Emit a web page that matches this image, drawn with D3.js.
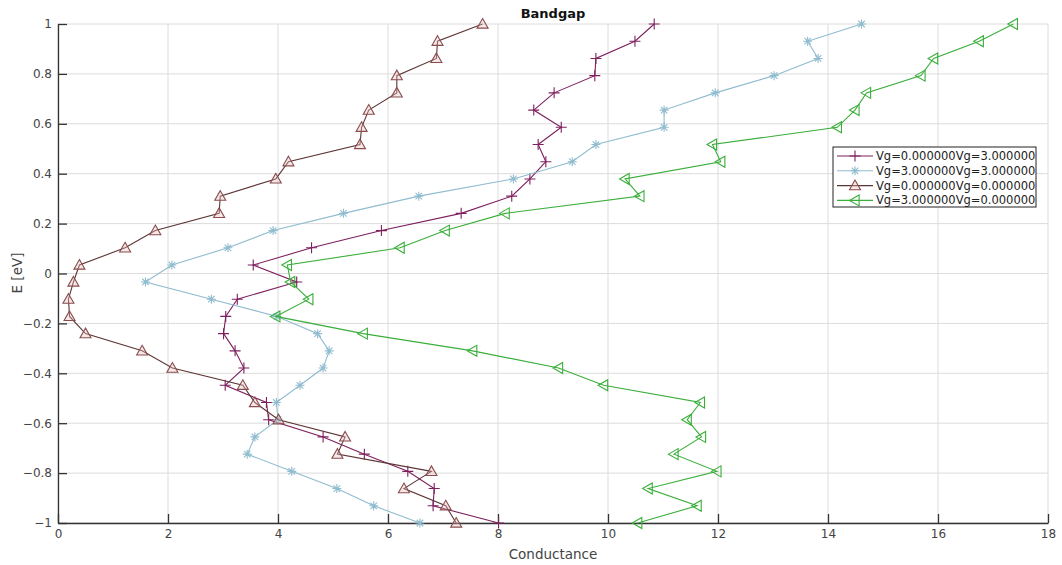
<!DOCTYPE html>
<html><head><meta charset="utf-8">
<script src="https://cdn.jsdelivr.net/npm/d3@7"></script>
<style>body{margin:0;background:#fff;} svg{display:block;} text{font-family:"DejaVu Sans",sans-serif;}</style>
</head><body><svg id="c" width="1062" height="565"></svg>
<script>
const energy = [-1, -0.931, -0.862, -0.793, -0.724, -0.655, -0.586, -0.517, -0.448, -0.379, -0.310, -0.241, -0.172, -0.103, -0.034, 0.034, 0.103, 0.172, 0.241, 0.310, 0.379, 0.448, 0.517, 0.586, 0.655, 0.724, 0.793, 0.862, 0.931, 1];
const g03 = [8.01, 6.82, 6.84, 6.36, 5.57, 4.82, 3.83, 3.79, 3.04, 3.38, 3.22, 3.01, 3.05, 3.26, 4.34, 3.55, 4.61, 5.88, 7.33, 8.25, 8.58, 8.87, 8.73, 9.15, 8.65, 9.02, 9.76, 9.78, 10.49, 10.84];
const g33 = [6.58, 5.74, 5.07, 4.25, 3.44, 3.58, 4.00, 3.97, 4.40, 4.82, 4.93, 4.72, 3.98, 2.79, 1.59, 2.07, 3.09, 3.91, 5.19, 6.56, 8.28, 9.35, 9.78, 11.02, 11.02, 11.95, 13.02, 13.82, 13.63, 14.61];
const g00 = [7.24, 7.05, 6.29, 6.79, 5.08, 5.22, 4.01, 3.58, 3.36, 2.08, 1.53, 0.50, 0.21, 0.19, 0.28, 0.39, 1.22, 1.77, 2.93, 2.95, 3.96, 4.19, 5.49, 5.52, 5.65, 6.16, 6.16, 6.88, 6.90, 7.72];
const g30 = [10.54, 11.62, 10.73, 11.98, 11.20, 11.70, 11.44, 11.68, 9.92, 9.10, 7.54, 5.55, 3.96, 4.56, 4.23, 4.17, 6.22, 7.04, 8.13, 10.58, 10.31, 12.05, 11.90, 14.17, 14.49, 14.70, 15.69, 15.92, 16.75, 17.37];
const seriesNames = ["Vg=0.000000Vg=3.000000", "Vg=3.000000Vg=3.000000", "Vg=0.000000Vg=0.000000", "Vg=3.000000Vg=0.000000"];
const xTicks = [0, 2, 4, 6, 8, 10, 12, 14, 16, 18];
const yTicks = [-1, -0.8, -0.6, -0.4, -0.2, 0, 0.2, 0.4, 0.6, 0.8, 1];

const series = [
  {name: seriesNames[0], vals: g03, line: "#7e1f5e", mk: "plus", stroke: "#7e1f5e", fill: "none"},
  {name: seriesNames[1], vals: g33, line: "#8fbccf", mk: "star", stroke: "#8fbccf", fill: "none"},
  {name: seriesNames[2], vals: g00, line: "#5e3535", mk: "tri", stroke: "#8a4c4c", fill: "rgba(230,190,190,0.35)"},
  {name: seriesNames[3], vals: g30, line: "#3aae3a", mk: "ltri", stroke: "#3aae3a", fill: "none"}
];

const svg = d3.select("#c");
const L = 58, R = 1048, T = 24, B = 523;
const x = d3.scaleLinear().domain([0, 18]).range([L, R]);
const y = d3.scaleLinear().domain([-1, 1]).range([B, T]);

// grid
const grid = svg.append("g");
grid.selectAll(".gx").data(xTicks).enter().append("line")
  .attr("x1", d => x(d)).attr("x2", d => x(d)).attr("y1", T).attr("y2", B)
  .attr("stroke", "#dcdcdc").attr("stroke-width", 1);
grid.selectAll(".gy").data(yTicks).enter().append("line")
  .attr("x1", L).attr("x2", R).attr("y1", d => y(d)).attr("y2", d => y(d))
  .attr("stroke", "#dcdcdc").attr("stroke-width", 1);

// axes
const xAxis = d3.axisBottom(x).tickValues(xTicks).tickSizeInner(-9).tickSizeOuter(0).tickPadding(6).tickFormat(d3.format("d"));
const yAxis = d3.axisLeft(y).tickValues(yTicks).tickSizeInner(-9).tickSizeOuter(0).tickPadding(6).tickFormat(d => d3.format("")(d));
const gx = svg.append("g").attr("transform", `translate(0,${B})`).call(xAxis);
const gy = svg.append("g").attr("transform", `translate(${L},0)`).call(yAxis);
[gx, gy].forEach(g => {
  g.select(".domain").attr("stroke", "#333").attr("stroke-width", 1.3);
  g.selectAll(".tick line").attr("stroke", "#333").attr("stroke-width", 1.3);
  g.selectAll(".tick text").attr("fill", "#444").style("font-size", "12px").style("font-family", "DejaVu Sans");
});

// markers
function markerPath(type, s) {
  const h = s / 2;
  if (type === "plus") return `M${-h},0L${h},0M0,${-h}L0,${h}`;
  if (type === "star") { const d = h * 0.72; return `M${-h},0L${h},0M0,${-h}L0,${h}M${-d},${-d}L${d},${d}M${-d},${d}L${d},${-d}`; }
  if (type === "tri") return `M0,${-h}L${h},${h * 0.75}L${-h},${h * 0.75}Z`;
  if (type === "ltri") return `M${-h},0L${h * 0.75},${-h}L${h * 0.75},${h}Z`;
}
const msize = {plus: 11, star: 9, tri: 11, ltri: 11};

const line = d3.line().x(d => x(d[0])).y(d => y(d[1]));
series.forEach(s => {
  const pts = s.vals.map((v, i) => [v, energy[i]]);
  svg.append("path").datum(pts).attr("d", line).attr("fill", "none").attr("stroke", s.line).attr("stroke-width", 1.1);
  svg.append("g").selectAll("path").data(pts).enter().append("path")
    .attr("transform", d => `translate(${x(d[0])},${y(d[1])})`)
    .attr("d", markerPath(s.mk, msize[s.mk]))
    .attr("fill", s.fill).attr("stroke", s.stroke).attr("stroke-width", 1.1);
});

// title & labels
svg.append("text").attr("x", 553).attr("y", 18).attr("text-anchor", "middle").style("font-size", "13px").style("font-weight", "bold").attr("fill", "#111").text("Bandgap");
svg.append("text").attr("x", 553).attr("y", 559).attr("text-anchor", "middle").style("font-size", "13.5px").attr("fill", "#444").text("Conductance");
svg.append("text").attr("transform", "translate(22,273) rotate(-90)").attr("text-anchor", "middle").style("font-size", "13.5px").attr("fill", "#444").text("E [eV]");

// legend
const lg = svg.append("g");
lg.append("rect").attr("x", 833).attr("y", 147).attr("width", 203).attr("height", 60).attr("fill", "#fff").attr("stroke", "#222").attr("stroke-width", 1);
series.forEach((s, i) => {
  const yy = 156 + i * 14.8;
  lg.append("line").attr("x1", 837).attr("x2", 873).attr("y1", yy).attr("y2", yy).attr("stroke", s.line).attr("stroke-width", 1.1);
  lg.append("path").attr("transform", `translate(855,${yy})`).attr("d", markerPath(s.mk, msize[s.mk])).attr("fill", s.fill).attr("stroke", s.stroke).attr("stroke-width", 1.1);
  lg.append("text").attr("x", 876).attr("y", yy + 4).style("font-size", "11.5px").attr("fill", "#222").text(s.name);
});
</script></body></html>
